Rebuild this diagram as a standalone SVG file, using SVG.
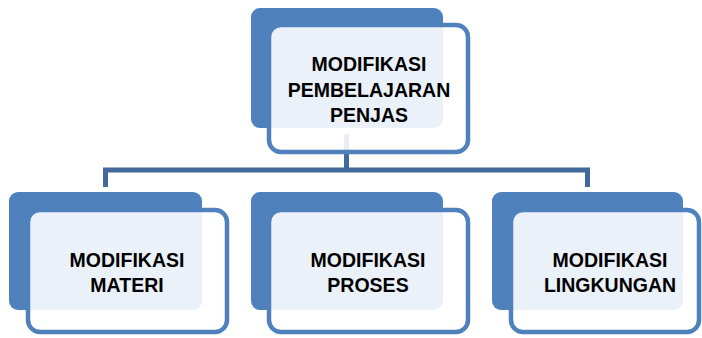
<svg xmlns="http://www.w3.org/2000/svg" width="702" height="338" viewBox="0 0 702 338">
<style>
.back{fill:#4F81BD;}
.front{fill:#FFFFFF;fill-opacity:0.89;stroke:#4F81BD;stroke-width:4.5;}
.conn{fill:none;stroke:#41699A;stroke-width:5;}
.lbl{font-family:"Liberation Sans",Arial,sans-serif;font-weight:bold;font-size:19.5px;fill:#000;text-anchor:middle;}
</style>
<rect width="702" height="338" fill="#FFFFFF"/>
<g id="connectors">
<path class="conn" d="M105.5 187 V170 H587.5 V187"/>
<path class="conn" d="M346.5 134 V170"/>
</g>
<g id="node-top">
<rect class="back" x="251" y="8" width="192" height="120" rx="9"/>
<rect class="front" x="269" y="25" width="199" height="127" rx="12"/>
<text class="lbl" x="369" y="71">MODIFIKASI</text>
<text class="lbl" x="369" y="97">PEMBELAJARAN</text>
<text class="lbl" x="369" y="122">PENJAS</text>
</g>
<g id="node-materi">
<rect class="back" x="9" y="192" width="193" height="118" rx="9"/>
<rect class="front" x="28" y="210" width="199" height="122" rx="12"/>
<text class="lbl" x="127" y="267">MODIFIKASI</text>
<text class="lbl" x="127" y="292">MATERI</text>
</g>
<g id="node-proses">
<rect class="back" x="251" y="192" width="192" height="118" rx="9"/>
<rect class="front" x="269" y="210" width="199" height="122" rx="12"/>
<text class="lbl" x="368" y="267">MODIFIKASI</text>
<text class="lbl" x="368" y="292">PROSES</text>
</g>
<g id="node-lingkungan">
<rect class="back" x="492" y="192" width="191" height="118" rx="9"/>
<rect class="front" x="511" y="210" width="188" height="122" rx="12"/>
<text class="lbl" x="610" y="267">MODIFIKASI</text>
<text class="lbl" x="610" y="292">LINGKUNGAN</text>
</g>
</svg>
